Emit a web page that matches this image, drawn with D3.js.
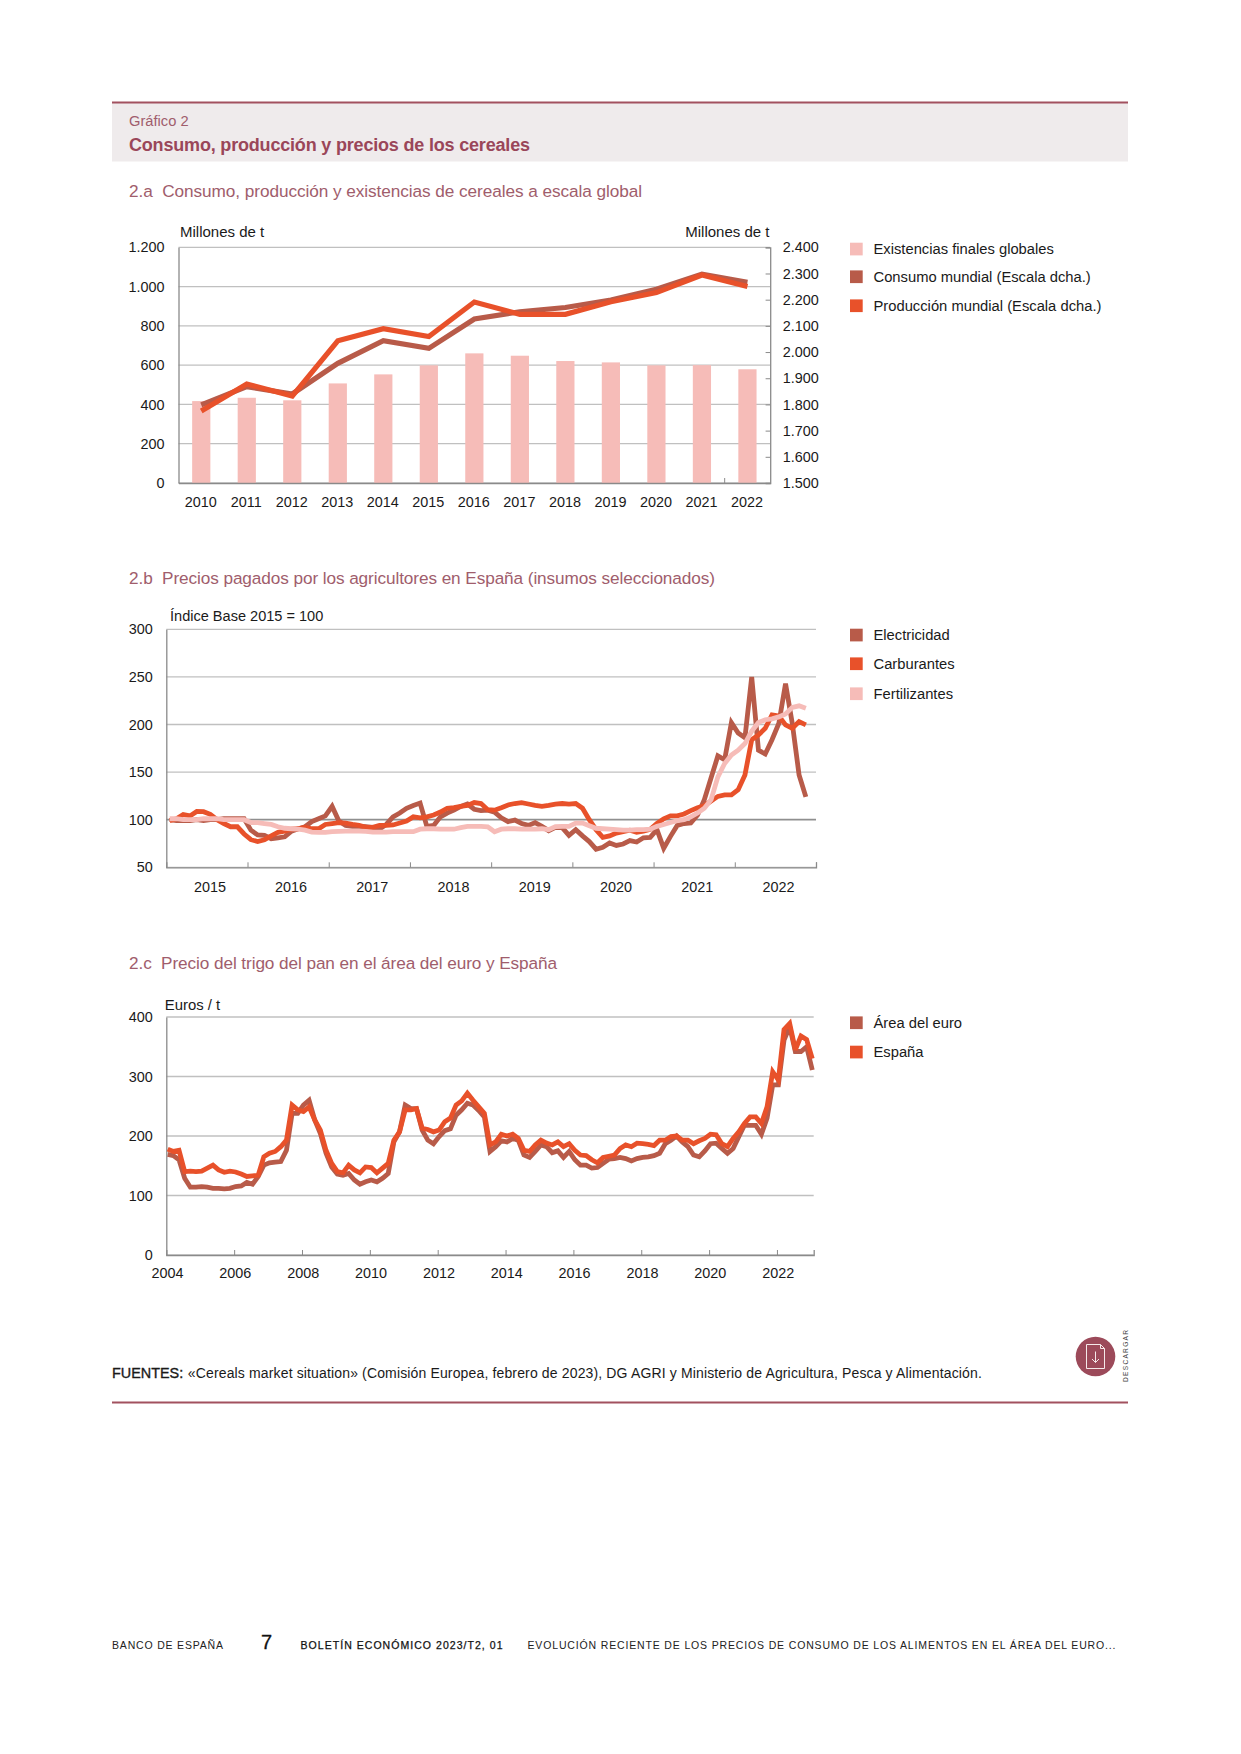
<!DOCTYPE html>
<html lang="es"><head><meta charset="utf-8"><title>Gráfico 2</title>
<script src="https://cdn.jsdelivr.net/npm/d3@7"></script>
<style>html,body{margin:0;padding:0;background:#fff}svg{display:block}text{font-family:"Liberation Sans",Arial,sans-serif;white-space:pre}</style>
</head><body><svg id="c" width="1241" height="1754"></svg>
<script>
// Chart 2.a
const yearsA=[2010,2011,2012,2013,2014,2015,2016,2017,2018,2019,2020,2021,2022];
const existencias=[417,434,421,507,553,599,660,648,621,614,599,600,579];
const consumo=[1798,1868,1840,1957,2043,2014,2126,2154,2170,2199,2240,2297,2266];
const produccion=[1775,1878,1832,2043,2089,2059,2191,2144,2144,2192,2227,2294,2250];
const ticksLeftA=[0,200,400,600,800,1000,1200];
const ticksRightA=[1500,1600,1700,1800,1900,2000,2100,2200,2300,2400];
// Chart 2.b (monthly, from January 2015)
const yearsB=[2015,2016,2017,2018,2019,2020,2021,2022];
const ticksB=[50,100,150,200,250,300];
const electricidad=[100,99,99,99,100,99,100,100,101,101,101,101,89,84,83.5,80,81,82,88,90.5,92.6,98,101,104,114,98.6,94,93,93,92.6,92,90,95,103,107,112,115,117.5,93,94,103,107,110,114,116.5,111,109.5,110,108,102,98,99.6,96,94,97,93,88.5,92,91.6,83.6,89.5,83,77,69,71,75.5,73,74.5,78,76.5,81,81.5,89.5,70,82.5,94,96,96.5,105,121,144,167,163,202,191,186,250,173,169,184,201,243,201,147,124];
const carburantes=[99,101,105.5,104,108.7,108.4,105.6,100,96,92.6,92.6,85,79,77,79,83,86.7,88,90,90.5,92,90.5,90.5,95,96,97,96.5,95,94,92,92,94,94,94.5,96.5,98.6,103,102,103,105,108,112,112.6,114,115,118,117,110.5,110,112.6,115.5,117,118,116.5,115,114,115,116.4,117,116.4,117,112,100,89.5,81.5,83,86,87.4,89,86.7,88,90,96,101,104,104,106,109.5,112.6,114.7,119.6,124.5,126,126,131.5,147,184,189,196,210,209,199.6,196,203,199.6];
const fertilizantes=[101,101,100,100,100,101,101,101,100,100,100,100,97,97,96,95,92.6,91,90.5,90,89,87,86.7,86.7,87.4,87.7,88,88,88,87.7,87,87,87,87.4,87.4,87.4,87.4,90,90.5,90.5,90,90,90,91.6,93,93,93,92.6,87.4,90,90.5,90.5,90,90,90,90.5,89.5,92.7,93,93,96.5,96.5,93.7,91,90.5,90,89.5,89,89,89.5,89.5,90,93,95,97,99,100,103,107,112,121,145,159,168,173,180,193,202,205,206,208,211,218,219.6,217];
// Chart 2.c (every second month, from January 2004)
const yearsC=[2004,2006,2008,2010,2012,2014,2016,2018,2020,2022];
const ticksC=[0,100,200,300,400];
const areaEuro=[169,167,160,129,114,114,115,114,112,112,111,112,115,116,122,119,132,151,155,156,157,176,238,238,252,260,227,204,171,148,136,134,137,126,119,123,126,123,129,137,190,207,252,246,246,210,193,187,199,209,212,235,244,255,252,243,232,174,182,192,190,196,193,168,164,174,185,182,172,175,164,174,160,151,151,146,147,154,161,162,164,162,158,162,164,165,167,171,187,193,200,190,182,168,165,175,187,188,179,171,179,199,218,218,218,203,230,286,286,361,384,342,342,350,311];
const espana=[178,174,176,140,141,140,141,146,151,143,139,141,139.5,136,132,133,134,165,171,174,182,193,252,244,241,249,227,210,176,154,140,138,151,143,138,148,147,138,146,154,193,207,244,244,246,213,211,207,210,224,230,252,259,272,260,249,238,185,190,203,200,203,196,176,174,185,193,188,185,190,182,187,176,168,167,160,155,164,166,168,179,185,182,188,187,186,184,193,193,199,200,193,193,187,192,196,203,202,187,182,196,207,221,232,232,221,249,308,294,379,389,345,368,362,330];

const C={red:"#b85b49",orange:"#e8512a",pink:"#f6bcb8",title:"#9a4659",sub:"#a05d6c",band:"#efebec",rule:"#a2515f",grid:"#c0c0c0",axis:"#8a8a8a",ink:"#1a1a1a"};
const svg=d3.select("#c");
function T(x,y,s,size,o={}){const t=svg.append("text").attr("x",x).attr("y",y).attr("font-size",size).attr("fill",o.fill||C.ink).attr("text-anchor",o.anchor||"start").attr("font-weight",o.weight||"normal").text(s);
 if(o.len)t.attr("textLength",o.len).attr("lengthAdjust","spacing");return t;}
function styleAxis(g){g.select(".domain").attr("stroke",C.axis).attr("stroke-width",1.3);g.selectAll(".tick line").attr("stroke",C.axis).attr("stroke-width",1);g.selectAll("text").attr("fill",C.ink).attr("font-size",14.4).attr("font-family",'"Liberation Sans",Arial,sans-serif');}
function grid(y,vals,x0,x1){svg.append("g").selectAll("line").data(vals).join("line").attr("x1",x0).attr("x2",x1).attr("y1",d=>y(d)).attr("y2",d=>y(d)).attr("stroke",C.grid).attr("stroke-width",1.3);}
function legend(items,ys){items.forEach((it,i)=>{svg.append("rect").attr("x",850).attr("y",ys[i]-6.3).attr("width",12.7).attr("height",12.7).attr("fill",it[1]);T(873.5,ys[i]+5,it[0],14.75);});}
function line(data,x,y,color,w){svg.append("path").datum(data).attr("fill","none").attr("stroke",color).attr("stroke-width",w).attr("stroke-linejoin","miter").attr("stroke-miterlimit",3).attr("d",d3.line().x((d,i)=>x(i)).y(d=>y(d)));}

// Header
svg.append("rect").attr("x",112).attr("y",102.5).attr("width",1016).attr("height",59).attr("fill",C.band);
svg.append("line").attr("x1",112).attr("x2",1128).attr("y1",102.5).attr("y2",102.5).attr("stroke",C.rule).attr("stroke-width",1.8);
T(129,125.5,"Gráfico 2",14.7,{fill:C.sub});
T(129,151,"Consumo, producción y precios de los cereales",18,{fill:C.title,weight:"bold",len:401});
T(129,196.5,"2.a  Consumo, producción y existencias de cereales a escala global",17.2,{fill:C.sub,len:513});
T(129,584,"2.b  Precios pagados por los agricultores en España (insumos seleccionados)",17.2,{fill:C.sub,len:586});
T(129,968.7,"2.c  Precio del trigo del pan en el área del euro y España",17.2,{fill:C.sub,len:428});

// Chart a
{const L=178.5,R=770.2,Y0=483,Y1=247.3;
 const x=d3.scaleBand().domain(yearsA).range([L,R]).paddingInner(.6).paddingOuter(.3);
 const yl=d3.scaleLinear().domain([0,1200]).range([Y0,Y1]);
 const yr=d3.scaleLinear().domain([1500,2400]).range([Y0,Y1]);
 grid(yl,ticksLeftA,L,R);
 svg.append("g").selectAll("rect").data(existencias).join("rect").attr("x",(d,i)=>x(yearsA[i])).attr("width",x.bandwidth()).attr("y",d=>yl(d)).attr("height",d=>Y0-yl(d)).attr("fill",C.pink);
 const gl=svg.append("g").attr("transform",`translate(${L},0)`).call(d3.axisLeft(yl).tickValues(ticksLeftA).tickSize(0).tickPadding(14).tickFormat(d=>d3.format(",")(d).replace(",",".")));styleAxis(gl);
 const gr=svg.append("g").attr("transform",`translate(${R},0)`).call(d3.axisRight(yr).tickValues(ticksRightA).tickSize(-4.6).tickPadding(12.5).tickFormat(d=>d3.format(",")(d).replace(",",".")));styleAxis(gr);
 const gb=svg.append("g").attr("transform",`translate(0,${Y0})`).call(d3.axisBottom(x).tickSize(0).tickPadding(14));styleAxis(gb);
 gb.selectAll("text").attr("dy","0.71em").attr("dx",-0.5);
 svg.append("line").attr("x1",x(2022)-x.step()*.3).attr("x2",x(2022)-x.step()*.3).attr("y1",Y0).attr("y2",Y0-5).attr("stroke",C.axis);
 const xc=i=>x(yearsA[i])+x.bandwidth()/2;
 line(consumo,xc,yr,C.red,5.2);
 line(produccion,xc,yr,C.orange,5.2);
 T(180,237,"Millones de t",15);
 T(769.5,237,"Millones de t",15,{anchor:"end"});
 legend([["Existencias finales globales",C.pink],["Consumo mundial (Escala dcha.)",C.red],["Producción mundial (Escala dcha.)",C.orange]],[249,276.7,305.7]);
}
// Chart b
{const L=166.3,R=816,Y0=867.3,Y1=629.3;
 const x=d3.scaleLinear().domain([0,96]).range([L,R]);
 const y=d3.scaleLinear().domain([50,300]).range([Y0,Y1]);
 grid(y,ticksB.filter(d=>d!==100),L,R);
 svg.append("line").attr("x1",L).attr("x2",R).attr("y1",y(100)).attr("y2",y(100)).attr("stroke","#8f8f8f").attr("stroke-width",1.8);
 const gl=svg.append("g").attr("transform",`translate(${L},0)`).call(d3.axisLeft(y).tickValues(ticksB).tickSize(0).tickPadding(13.5));styleAxis(gl);
 const gb=svg.append("g").attr("transform",`translate(0,${Y0})`).call(d3.axisBottom(x).tickValues(d3.range(12,97,12)).tickSize(-5).tickFormat(""));styleAxis(gb);
 svg.append("g").selectAll("text").data(yearsB).join("text").attr("x",(d,i)=>x(12*i+6)+3).attr("y",892).attr("text-anchor","middle").attr("font-size",14.4).attr("fill",C.ink).text(d=>d);
 const xm=i=>x(i+.5);
 line(electricidad,xm,y,C.red,4.8);
 line(carburantes,xm,y,C.orange,4.8);
 line(fertilizantes,xm,y,C.pink,4.8);
 T(170,620.7,"Índice Base 2015 = 100",14.55);
 legend([["Electricidad",C.red],["Carburantes",C.orange],["Fertilizantes",C.pink]],[635,663.7,693.7]);
}
// Chart c
{const L=166.3,R=813.7,Y0=1255,Y1=1017;
 const x=d3.scaleLinear().domain([0,229]).range([L,R]);
 const y=d3.scaleLinear().domain([0,400]).range([Y0,Y1]);
 grid(y,ticksC,L,R);
 const gl=svg.append("g").attr("transform",`translate(${L},0)`).call(d3.axisLeft(y).tickValues(ticksC).tickSize(0).tickPadding(13.5));styleAxis(gl);
 const gb=svg.append("g").attr("transform",`translate(0,${Y0})`).call(d3.axisBottom(x).tickValues(d3.range(24,229,24)).tickSize(-5).tickFormat(""));styleAxis(gb);
 svg.append("g").selectAll("text").data(yearsC).join("text").attr("x",(d,i)=>x(24*i)+1.2).attr("y",1278).attr("text-anchor","middle").attr("font-size",14.4).attr("fill",C.ink).text(d=>d);
 const xm=i=>x(2*i+.5);
 line(areaEuro,xm,y,C.red,4.8);
 line(espana,xm,y,C.orange,4.8);
 T(164.8,1010,"Euros / t",14.9);
 legend([["Área del euro",C.red],["España",C.orange]],[1022.7,1052]);
}
// Sources
T(112,1377.5,"FUENTES:",14.4).attr("stroke",C.ink).attr("stroke-width",.35);
T(187.8,1377.5,"«Cereals market situation» (Comisión Europea, febrero de 2023), DG AGRI y Ministerio de Agricultura, Pesca y Alimentación.",14,{len:794});
svg.append("line").attr("x1",112).attr("x2",1128).attr("y1",1402.5).attr("y2",1402.5).attr("stroke",C.rule).attr("stroke-width",2);
// Download icon
const ic=svg.append("g").attr("transform","translate(1095.5,1356.5)");
ic.append("circle").attr("r",19.8).attr("fill","#9c4a5a");
ic.append("path").attr("d","M-9,-12 H5 L9,-8 V12 H-9 Z M5,-12 V-8 H9").attr("fill","none").attr("stroke","#f5e9ea").attr("stroke-width",1);
ic.append("path").attr("d","M0,-5 V6 M-3.5,2.5 L0,6 L3.5,2.5").attr("fill","none").attr("stroke","#f5e9ea").attr("stroke-width",1);
svg.append("text").attr("transform","translate(1128,1382) rotate(-90)").attr("font-size",6.6).attr("fill","#444").attr("textLength",52).text("DESCARGAR");
// Footer
T(112,1649,"BANCO DE ESPAÑA",10.5,{fill:"#222",len:111});
T(261,1649,"7",20,{fill:"#111"}).attr("stroke","#111").attr("stroke-width",.3);
T(300.5,1649,"BOLETÍN ECONÓMICO 2023/T2, 01",10.5,{fill:"#111",len:202}).attr("stroke","#111").attr("stroke-width",.25);
T(527.5,1649,"EVOLUCIÓN RECIENTE DE LOS PRECIOS DE CONSUMO DE LOS ALIMENTOS EN EL ÁREA DEL EURO...",10.5,{fill:"#222",len:588});
</script></body></html>
